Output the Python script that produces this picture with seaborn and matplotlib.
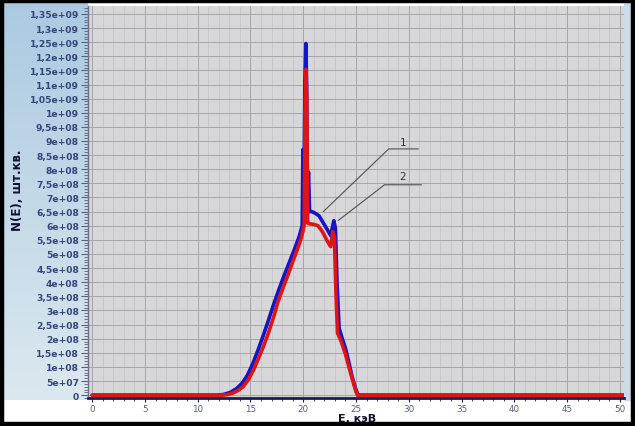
import numpy as np
import pandas as pd
import matplotlib
matplotlib.use("Agg")
import matplotlib.pyplot as plt
from matplotlib.patches import Rectangle
from matplotlib.ticker import MultipleLocator, FuncFormatter
import seaborn as sns

# curve 1 (blue) - energy, keV / counts
energy_1 = [0.0, 11.9, 12.5, 13.1, 13.7, 14.2, 14.7, 15.2, 15.7, 16.2, 16.7,
            17.2, 17.7, 18.2, 18.7, 19.2, 19.6, 19.9, 19.97, 20.05, 20.15,
            20.25, 20.32, 20.4, 20.5, 20.6, 20.8, 21.1, 21.5, 21.9, 22.3, 22.6,
            22.9, 23.05, 23.2, 23.4, 23.7, 24.0, 24.3, 24.6, 24.9, 25.2, 50.8]
counts_1 = [0.0, 0.0, 0.03e8, 0.1e8, 0.24e8, 0.42e8, 0.7e8, 1.1e8, 1.58e8,
            2.1e8, 2.65e8, 3.22e8, 3.75e8, 4.25e8, 4.72e8, 5.2e8, 5.6e8, 6.0e8,
            8.7e8, 6.3e8, 1.1e9, 1.245e9, 1.1e9, 7.0e8, 7.9e8, 6.5e8, 6.5e8,
            6.45e8, 6.35e8, 6.1e8, 5.85e8, 5.65e8, 6.18e8, 5.9e8, 4.0e8,
            2.37e8, 2.0e8, 1.66e8, 1.2e8, 0.7e8, 0.3e8, 0.0, 0.0]

# curve 2 (red)
energy_2 = [0.0, 12.3, 12.8, 13.3, 13.8, 14.3, 14.8, 15.3, 15.7, 16.2, 16.7,
            17.2, 17.6, 18.1, 18.6, 19.0, 19.5, 19.8, 20.0, 20.1, 20.17, 20.25,
            20.33, 20.42, 20.55, 21.0, 21.4, 21.8, 22.3, 22.6, 22.8, 22.95,
            23.1, 23.25, 23.6, 24.0, 24.4, 24.7, 25.0, 25.15, 50.8]
counts_2 = [0.0, 0.0, 0.02e8, 0.07e8, 0.16e8, 0.3e8, 0.55e8, 0.9e8, 1.25e8,
            1.7e8, 2.2e8, 2.78e8, 3.3e8, 3.82e8, 4.3e8, 4.72e8, 5.22e8,
            5.55e8, 5.85e8, 6.05e8, 1.0e9, 1.154e9, 1.05e9, 6.1e8, 6.07e8,
            6.05e8, 6.0e8, 5.8e8, 5.44e8, 5.26e8, 5.79e8, 5.6e8, 3.6e8, 2.2e8,
            1.9e8, 1.45e8, 0.9e8, 0.5e8, 0.12e8, 0.0, 0.0]

x_ticks = [0, 5, 10, 15, 20, 25, 30, 35, 40, 45, 50]
curve_names = ["1", "2"]

df = pd.concat([
    pd.DataFrame({"E": energy_1, "N": counts_1, "curve": curve_names[0]}),
    pd.DataFrame({"E": energy_2, "N": counts_2, "curve": curve_names[1]}),
], ignore_index=True)

sns.set_theme(style="white")
plt.rcParams["font.family"] = ["DejaVu Sans"]

fig = plt.figure(figsize=(6.35, 4.27), dpi=100)
fig.patch.set_facecolor("white")

# background panels (left blue gradient, right thin strip)
W, H = 635.0, 427.0
bg = fig.add_axes([3 / W, 1 - 401 / H, 85 / W, 398 / H], zorder=0)
grad = np.linspace(0, 1, 256).reshape(-1, 1)
cmap = matplotlib.colors.LinearSegmentedColormap.from_list("bg", ["#abcae1", "#dce8ef"])
bg.imshow(grad, aspect="auto", cmap=cmap, extent=[0, 1, 0, 1])
bg.axis("off")
fig.patches.append(Rectangle((624 / W, 1 - 401 / H), 8 / W, 398 / H,
                             transform=fig.transFigure, color="#c9dce8", zorder=0))

ax = fig.add_axes([88 / W, 1 - 399 / H, 536 / W, 392 / H], zorder=2)
ax.set_facecolor("#d7d7da")

palette = {"1": "#1414c8", "2": "#e01414"}
sns.lineplot(data=df[df.curve == "1"], x="E", y="N", color=palette["1"],
             lw=2.6, sort=False, ax=ax, legend=False, zorder=3)
sns.lineplot(data=df[df.curve == "2"], x="E", y="N", color=palette["2"],
             lw=2.6, sort=False, ax=ax, legend=False, zorder=4)

ax.set_xlim(-0.4, 50.4)
ax.set_ylim(-1.0e7, 1.378e9)

ax.set_xticks(x_ticks)
ax.xaxis.set_minor_locator(MultipleLocator(1))
ax.yaxis.set_major_locator(MultipleLocator(5e7))
ax.yaxis.set_minor_locator(MultipleLocator(1e7))
ax.yaxis.set_major_formatter(FuncFormatter(
    lambda v, p: "0" if abs(v) < 1 else ("%g" % v).replace(".", ",")))

ax.grid(which="major", color="#a6a6aa", lw=0.7)
ax.grid(which="minor", axis="x", color="#c2c2c6", lw=0.5)
ax.set_axisbelow(True)

tick_col = "#34457a"
ax.tick_params(axis="y", which="major", length=5, width=0.8, color="#55607a",
               labelsize=6.6, labelcolor=tick_col, pad=1.5, left=True)
ax.tick_params(axis="y", which="minor", length=3, width=0.6, color="#55607a", left=True)
ax.tick_params(axis="x", which="major", length=3, width=0.8, color="#1c1c5c",
               labelsize=6.3, labelcolor="#55607a", pad=1.5, bottom=True)
ax.tick_params(axis="x", which="minor", length=2, width=0.6, color="#1c1c5c", bottom=True)
for lab in ax.get_yticklabels():
    lab.set_fontweight("bold")

for s in ["top", "right"]:
    ax.spines[s].set_visible(False)
ax.spines["left"].set_color("#6a7088")
ax.spines["left"].set_linewidth(1.0)
ax.spines["bottom"].set_color("#1c1c5c")
ax.spines["bottom"].set_linewidth(2.0)

ax.set_xlabel("")
ax.set_ylabel("")
fig.text(357 / W, 1 - 419 / H, "E, кэВ", ha="center", va="center",
         fontsize=8, fontweight="bold", color="#101030")
fig.text(18 / W, 1 - 190 / H, "N(E), шт.кв.", ha="center", va="center",
         rotation=90, fontsize=8.5, fontweight="bold", color="#101030")

# curve labels with leader lines
lead = dict(color="#505055", lw=0.8, zorder=5)
ax.plot([21.9, 28.1, 30.9], [6.5e8, 8.72e8, 8.72e8], **lead)
ax.plot([23.3, 27.7, 31.2], [6.18e8, 7.45e8, 7.45e8], **lead)
ax.text(29.5, 8.95e8, curve_names[0], ha="center", va="center", fontsize=7.5, color="#303035")
ax.text(29.4, 7.75e8, curve_names[1], ha="center", va="center", fontsize=7.5, color="#303035")

# black frame around the picture
fig.patches.append(Rectangle((0.003, 0.004), 0.994, 0.992, transform=fig.transFigure,
                             fill=False, edgecolor="black", lw=3.2, zorder=10))

fig.savefig("out.png", dpi=100)
